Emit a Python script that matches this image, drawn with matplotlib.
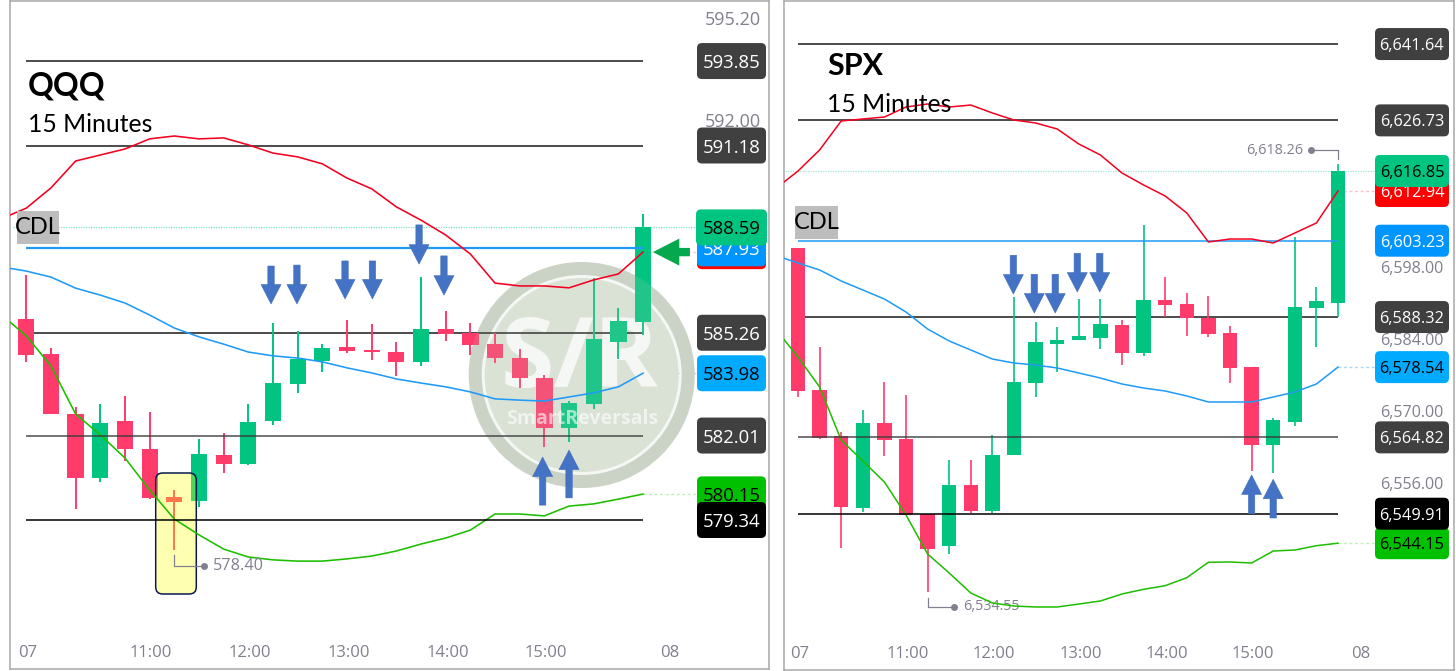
import matplotlib
matplotlib.use('Agg')
import matplotlib.pyplot as plt
from matplotlib.patches import FancyBboxPatch, Circle, Wedge, Rectangle
from matplotlib.transforms import IdentityTransform

W, H = 1456, 671

# QQQ 15 minute candles
qqq_open = [585.68, 584.59, 582.69, 580.66, 582.46, 581.60, 580.06, 579.95, 581.41, 581.12, 582.46, 583.63, 584.38,
            584.81, 584.72, 584.66, 584.32, 585.37, 585.26, 584.89, 584.47, 583.83, 582.24, 583.01, 584.96, 585.59]
qqq_high = [587.09, 584.79, 582.92, 583.01, 583.27, 582.77, 580.29, 581.91, 582.08, 583.01, 585.57, 585.31, 584.90,
            585.65, 585.53, 584.96, 587.01, 585.95, 585.57, 585.24, 584.74, 583.91, 583.11, 586.98, 586.05, 589.01]
qqq_low = [584.35, 582.69, 579.69, 580.55, 581.22, 579.99, 578.40, 579.74, 580.84, 581.07, 582.35, 583.37, 584.03,
           584.61, 584.40, 583.89, 584.21, 585.01, 584.57, 584.29, 583.50, 581.66, 581.82, 582.85, 584.42, 585.19]
qqq_close = [584.56, 582.69, 580.68, 582.40, 581.57, 580.03, 579.90, 581.42, 581.11, 582.43, 583.66, 584.43, 584.78,
             584.69, 584.66, 584.32, 585.39, 585.23, 584.88, 584.47, 583.82, 582.26, 583.04, 585.07, 585.63, 588.59]

# Bollinger style bands, first value is the bar before the visible window
qqq_upper = [588.87, 589.20, 589.84, 590.69, 590.88, 591.07, 591.39, 591.48, 591.39, 591.42, 591.20, 590.94, 590.82,
             590.60, 590.15, 589.81, 589.24, 588.82, 588.35, 587.75, 586.83, 586.74, 586.74, 586.68, 586.93, 587.12, 587.81]
qqq_mid = [587.34, 587.21, 587.02, 586.67, 586.45, 586.20, 585.82, 585.41, 585.13, 584.90, 584.65, 584.53, 584.46,
           584.34, 584.15, 583.99, 583.80, 583.67, 583.55, 583.39, 583.17, 583.13, 583.10, 583.23, 583.36, 583.55, 583.98]
qqq_lower = [585.82, 585.16, 584.21, 582.69, 582.03, 581.30, 580.29, 579.37, 578.87, 578.42, 578.17, 578.08, 578.04,
             578.04, 578.11, 578.20, 578.36, 578.58, 578.77, 579.02, 579.53, 579.53, 579.47, 579.78, 579.85, 580.00, 580.16]

qqq_levels_top = [593.85, 591.18, 585.26]
qqq_levels_low = [582.01, 579.34]
qqq_cdl = 587.93
qqq_yticks = [595.20, 592.00]
qqq_down = [(9.92, 586.17, 587.37), (10.97, 586.17, 587.40), (12.92, 586.33, 587.53), (14.03, 586.33, 587.53),
            (15.92, 587.43, 588.67), (16.93, 586.45, 587.69)]
qqq_up = [(20.93, 581.33, 579.81), (22.0, 581.55, 580.04)]

# SPX 15 minute candles
spx_open = [6601.87, 6574.07, 6565.02, 6551.09, 6567.56, 6564.57, 6549.85, 6543.67, 6555.58, 6550.44, 6561.31, 6575.50, 6583.05,
            6583.84, 6584.29, 6586.70, 6581.36, 6591.58, 6590.87, 6588.20, 6585.14, 6578.50, 6563.33, 6567.89, 6590.09, 6591.06]
spx_high = [6601.87, 6582.40, 6565.87, 6570.10, 6575.57, 6573.09, 6549.85, 6560.40, 6560.40, 6565.22, 6592.30, 6587.35, 6586.31,
            6591.78, 6591.91, 6587.74, 6606.30, 6596.14, 6592.95, 6592.49, 6586.57, 6578.63, 6568.54, 6603.89, 6594.25, 6618.26]
spx_low = [6572.77, 6564.50, 6543.15, 6550.24, 6561.24, 6549.66, 6534.55, 6542.10, 6550.11, 6550.11, 6561.31, 6572.77, 6577.65,
           6583.84, 6582.14, 6578.89, 6580.71, 6588.26, 6584.62, 6584.36, 6575.50, 6558.31, 6557.79, 6567.10, 6582.40, 6588.26]
spx_close = [6573.81, 6564.70, 6551.28, 6567.56, 6564.24, 6549.66, 6543.08, 6555.58, 6550.44, 6561.37, 6575.70, 6583.51, 6583.90,
             6584.55, 6586.90, 6581.36, 6591.58, 6590.74, 6588.07, 6585.01, 6578.43, 6563.33, 6568.15, 6590.28, 6591.39, 6616.85]

spx_upper = [6613.52, 6616.84, 6620.95, 6626.61, 6627.00, 6627.39, 6629.34, 6629.93, 6629.34, 6629.73, 6628.17, 6626.80, 6626.22,
             6625.05, 6622.12, 6619.97, 6616.45, 6614.11, 6611.96, 6608.64, 6602.98, 6603.56, 6603.56, 6602.78, 6604.73, 6606.69, 6612.94]
spx_mid = [6600.30, 6598.87, 6597.51, 6595.36, 6593.60, 6591.84, 6589.30, 6585.98, 6583.64, 6581.88, 6580.12, 6579.34, 6578.95,
           6578.37, 6577.39, 6576.41, 6575.24, 6574.46, 6573.87, 6572.90, 6571.73, 6571.73, 6571.73, 6572.70, 6573.68, 6575.24, 6578.54]
spx_lower = [6585.79, 6580.51, 6574.66, 6564.30, 6560.20, 6556.10, 6549.66, 6542.04, 6538.33, 6534.42, 6532.47, 6531.88, 6531.69,
             6531.69, 6532.27, 6532.86, 6534.23, 6535.14, 6535.85, 6537.41, 6540.42, 6540.48, 6540.28, 6542.62, 6542.82, 6543.66, 6544.15]

spx_levels_top = [6641.64, 6626.73, 6588.32]
spx_levels_low = [6564.82, 6549.91]
spx_cdl = 6603.23
spx_yticks = [6598.00, 6584.00, 6570.00, 6556.00]
spx_down = [(9.97, 6592.82, 6600.38), (10.94, 6589.11, 6596.67), (11.91, 6589.11, 6596.67), (12.93, 6593.21, 6600.77),
            (13.97, 6593.21, 6600.77)]
spx_up = [(21.0, 6557.47, 6549.91), (22.0, 6556.63, 6549.07)]

xtick_pos = [0.07, 5.06, 9.07, 13.07, 17.07, 21.05, 26.07]
xtick_labels = ['07', '11:00', '12:00', '13:00', '14:00', '15:00', '08']

RED = '#FF3B6B'
GREEN = '#00C480'
BLUE_LINE = '#1E9BF8'
ARROW = '#4472C4'
GREY_TXT = '#80808F'
DARK_TAG = '#404040'
FONT = 'Open Sans'
TITLE_FONT = 'Lato'


def make_panel(fig, box, x0, step, y_ref, px_ref, px_per_unit):
    left, right, top, bottom = box
    ax = fig.add_axes([left / W, 1 - bottom / H, (right - left) / W, (bottom - top) / H])
    ax.set_xlim((left - x0) / step, (right - x0) / step)
    ax.set_ylim(y_ref - (bottom - px_ref) / px_per_unit, y_ref + (px_ref - top) / px_per_unit)
    for s in ax.spines.values():
        s.set_color('#A8A8A8')
        s.set_linewidth(1.1)
    ax.set_axisbelow(True)
    return ax


def draw_candles(ax, o, h, l, c, wick_lw):
    for i in range(len(o)):
        col = GREEN if c[i] >= o[i] else RED
        ax.vlines(i, l[i], h[i], color=col, lw=wick_lw, zorder=2)
        ax.bar(i, abs(c[i] - o[i]), bottom=min(o[i], c[i]), width=0.66, color=col, zorder=2.1)


def draw_axes_text(ax, yticks, fmt, ysize, ypad):
    ax.yaxis.tick_right()
    ax.set_yticks(yticks)
    ax.set_yticklabels([fmt.format(v) for v in yticks], fontsize=ysize, color=GREY_TXT, family=FONT)
    ax.tick_params(axis='y', length=0, pad=ypad)
    ax.set_xticks(xtick_pos)
    ax.set_xticklabels(xtick_labels, fontsize=12, color=GREY_TXT, family=FONT)
    ax.tick_params(axis='x', length=0, pad=-17.5)


def add_tag(ax, x, value, text, fc, tc, w, h, size, z):
    cx, cy = ax.transData.transform((x, value))
    ax.add_patch(FancyBboxPatch((cx - w / 2, cy - h / 2), w, h, boxstyle='round,pad=0,rounding_size=5',
                                fc=fc, ec='none', transform=IdentityTransform(), clip_on=False, zorder=z))
    if text:
        ax.text(x, value, text, ha='center', va='center_baseline', color=tc, fontsize=size, family=FONT, zorder=z + 0.01)


def add_arrows(ax, arrows):
    for x, tip, base in arrows:
        ax.annotate('', xy=(x, tip), xytext=(x, base), zorder=6,
                    arrowprops=dict(arrowstyle='simple,head_length=14,head_width=14.4,tail_width=4.6', mutation_scale=1,
                                    shrinkA=0, shrinkB=0, fc=ARROW, ec='#3F6CBB', lw=0.4))


def draw_lines(ax, upper, mid, lower, lw):
    xs = list(range(-1, 26))
    ax.plot(xs, upper, color='#F50020', lw=lw, zorder=4)
    ax.plot(xs, mid, color=BLUE_LINE, lw=lw, zorder=4)
    ax.plot(xs, lower, color='#1DBE00', lw=lw, zorder=4)


def title_block(name, name_size, x, y_name, y_sub, cdl_box):
    fig.text(x / W, 1 - y_name / H, name, fontsize=name_size, fontweight='bold', family=TITLE_FONT, color='black', va='center', ha='left')
    fig.text(x / W, 1 - y_sub / H, '15 Minutes', fontsize=17.8, family=TITLE_FONT, color='black', va='center', ha='left', zorder=10)
    x0, x1, y0, y1 = cdl_box
    fig.add_artist(Rectangle((x0 / W, 1 - y1 / H), (x1 - x0) / W, (y1 - y0) / H, fc='#BDBDBD', ec='none',
                             transform=fig.transFigure, zorder=9))
    fig.text((x0 + x1) / 2 / W, 1 - (y0 + y1) / 2 / H, 'CDL', fontsize=17, family=TITLE_FONT, color='black', va='center', ha='center', zorder=10)


fig = plt.figure(figsize=(W / 100, H / 100), dpi=100, facecolor='white')

# ------ QQQ ------
ax1 = make_panel(fig, (10, 769, 1, 669), 26.3, 24.67, 579.34, 520, 31.63)
draw_axes_text(ax1, qqq_yticks, '{:.2f}', 13, -46)

# watermark sits under the candles, a faint copy of the disk goes over them
mx, my = 581.7, H - 375
ax1.add_patch(Wedge((mx, my), 113, 0, 360, width=13, fc='#CDD5C8', ec='none', transform=IdentityTransform(), zorder=1.6))
ax1.add_patch(Circle((mx, my), 97, fc='#DFE6DA', ec='none', transform=IdentityTransform(), zorder=1.6))
ax1.text(mx - 2, my + 14, 'S/R', ha='center', va='center', fontsize=70, fontweight='bold', color='white',
         family=FONT, transform=IdentityTransform(), zorder=1.7)
ax1.add_patch(Circle((mx, my), 113, fc='#C4CEBE', ec='none', alpha=0.16, transform=IdentityTransform(), zorder=3))
ax1.text(mx, my - 44, 'SmartReversals', ha='center', va='center', fontsize=14, fontweight='bold', color='white', alpha=0.6,
         family=FONT, transform=IdentityTransform(), zorder=3.1)

draw_candles(ax1, qqq_open, qqq_high, qqq_low, qqq_close, 1.4)

for v in qqq_levels_top:
    ax1.hlines(v, 0, 25, color='#1A1A1A', lw=1.1, zorder=1.8)
ax1.hlines(qqq_levels_low[0], 0, 25, color='#3A3A3A', lw=1.1, alpha=0.9, zorder=4.5)
ax1.hlines(qqq_levels_low[1], 0, 25, color='black', lw=1.1, zorder=4.5)
ax1.hlines(qqq_cdl, 0, 25, color=BLUE_LINE, lw=1.6, zorder=4)

# dotted guides going to the price tags
ax1.hlines(qqq_close[-1], -0.55, 27.2, color='#7FE3C2', lw=0.9, linestyles=(0, (1, 1)), zorder=1.5)
ax1.hlines(qqq_mid[-1], 25, 27.2, color='#A8D8F5', lw=1.0, linestyles=(0, (2, 2)), zorder=1.5)
ax1.hlines(qqq_lower[-1], 25, 27.2, color='#BDF0B5', lw=1.0, linestyles=(0, (2, 2)), zorder=1.5)
ax1.hlines(qqq_upper[-1], 25, 27.2, color='#FFC0C8', lw=1.0, linestyles=(0, (2, 2)), zorder=1.5)

# yellow highlight around the low candle
ax1.add_patch(FancyBboxPatch((155.7 + 7, H - 594 + 7), 40.6 - 14, 121 - 14, boxstyle='round,pad=7,rounding_size=7',
                             fc='#FFFF00', ec='none', alpha=0.3, transform=IdentityTransform(), zorder=2.5))
ax1.add_patch(FancyBboxPatch((155.7 + 7, H - 594 + 7), 40.6 - 14, 121 - 14, boxstyle='round,pad=7,rounding_size=7',
                             fc='none', ec='#0B1A50', lw=1.1, transform=IdentityTransform(), zorder=2.6))

draw_lines(ax1, qqq_upper, qqq_mid, qqq_lower, 1.15)
add_arrows(ax1, qqq_down)
add_arrows(ax1, qqq_up)
ax1.annotate('', xy=(25.40, qqq_upper[-1]), xytext=(26.90, qqq_upper[-1]), zorder=6,
             arrowprops=dict(arrowstyle='simple,head_length=19,head_width=19.5,tail_width=6', mutation_scale=1,
                             shrinkA=0, shrinkB=0, fc='#06A84E', ec='none'))

# low of the session
ax1.plot([6, 6, 7.2], [578.23, 577.90, 577.90], color='#80808F', lw=0.9, zorder=4.6)
ax1.plot([7.2], [577.90], 'o', color='#80808F', ms=4, zorder=4.6)
ax1.text(7.57, 577.90, '578.40', color=GREY_TXT, fontsize=11.7, family=FONT, ha='left', va='center', zorder=4.6)

tag_x1 = (731.5 - 26.3) / 24.67
tw, th, ts = 69, 36, 13.3
add_tag(ax1, tag_x1, 593.85, '593.85', DARK_TAG, 'white', tw, th, ts, 7)
add_tag(ax1, tag_x1, 591.18, '591.18', DARK_TAG, 'white', tw, th, ts, 7)
add_tag(ax1, tag_x1, 587.84, '', '#FF0000', 'white', tw, th, ts, 7.1)
add_tag(ax1, tag_x1, qqq_cdl, '587.93', '#0095FF', 'white', tw, th, ts, 7.2)
add_tag(ax1, tag_x1, 588.59, '588.59', '#00C47F', 'black', tw + 2, th, ts, 7.3)
add_tag(ax1, tag_x1, 585.26, '585.26', DARK_TAG, 'white', tw, th, ts, 7)
add_tag(ax1, tag_x1, 583.98, '583.98', '#00AAFF', 'black', tw, th, ts, 7)
add_tag(ax1, tag_x1, 582.01, '582.01', DARK_TAG, 'white', tw, th, ts, 7)
add_tag(ax1, tag_x1, 580.15, '580.15', '#00C000', 'black', tw, th, ts, 7)
add_tag(ax1, tag_x1, 579.34, '579.34', 'black', 'white', tw, th, ts, 7.1)

# ------ SPX ------
ax2 = make_panel(fig, (784, 1454, 1, 670), 798, 21.6, 6549.91, 513.7, 5.12)
draw_axes_text(ax2, spx_yticks, '{:,.2f}', 11.6, -53)
draw_candles(ax2, spx_open, spx_high, spx_low, spx_close, 1.2)

for v in spx_levels_top:
    ax2.hlines(v, 0, 25, color='#1A1A1A', lw=1.1, zorder=1)
ax2.hlines(spx_levels_low[0], 0, 25, color='#3A3A3A', lw=1.1, alpha=0.9, zorder=4.5)
ax2.hlines(spx_levels_low[1], 0, 25, color='black', lw=1.1, zorder=4.5)
ax2.hlines(spx_cdl, 0, 25, color=BLUE_LINE, lw=1.1, zorder=4)

ax2.hlines(spx_close[-1], -0.6, 27.2, color='#9FE8D0', lw=0.9, linestyles=(0, (1, 1)), zorder=1.5)
ax2.hlines(spx_mid[-1], 25, 27.2, color='#A8D8F5', lw=1.0, linestyles=(0, (2, 2)), zorder=1.5)
ax2.hlines(spx_lower[-1], 25, 27.2, color='#BDF0B5', lw=1.0, linestyles=(0, (2, 2)), zorder=1.5)
ax2.hlines(spx_upper[-1], 25, 27.2, color='#FFC0C8', lw=1.0, linestyles=(0, (2, 2)), zorder=1.5)

draw_lines(ax2, spx_upper, spx_mid, spx_lower, 1.1)
add_arrows(ax2, spx_down)
add_arrows(ax2, spx_up)

ax2.plot([6, 6, 7.22], [6533.45, 6531.75, 6531.75], color='#80808F', lw=0.9, zorder=3)
ax2.plot([7.22], [6531.75], 'o', color='#80808F', ms=4, zorder=3)
ax2.text(7.63, 6531.75, '6,534.55', color=GREY_TXT, fontsize=10.4, family=FONT, ha='left', va='center', zorder=3)
ax2.plot([25, 25, 23.75], [6619.19, 6620.94, 6620.94], color='#80808F', lw=0.9, zorder=3)
ax2.plot([23.75], [6620.94], 'o', color='#80808F', ms=4, zorder=3)
ax2.text(23.38, 6620.94, '6,618.26', color=GREY_TXT, fontsize=10.4, family=FONT, ha='right', va='center', zorder=3)

tag_x2 = (1412 - 798) / 21.6
tw, th, ts = 74, 32, 11.8
add_tag(ax2, tag_x2, 6641.64, '6,641.64', DARK_TAG, 'white', tw, th, ts, 7)
add_tag(ax2, tag_x2, 6626.73, '6,626.73', DARK_TAG, 'white', tw, th, ts, 7)
add_tag(ax2, tag_x2, 6612.94, '6,612.94', '#FF0000', 'white', tw, th, ts, 7)
add_tag(ax2, tag_x2, 6616.85, '6,616.85', '#00C47F', 'black', tw, th, ts, 7.1)
add_tag(ax2, tag_x2, spx_cdl, '6,603.23', '#0095FF', 'white', tw, th, ts, 7)
add_tag(ax2, tag_x2, 6588.32, '6,588.32', DARK_TAG, 'white', tw, th, ts, 7)
add_tag(ax2, tag_x2, 6578.54, '6,578.54', '#00AAFF', 'black', tw, th, ts, 7)
add_tag(ax2, tag_x2, 6564.82, '6,564.82', DARK_TAG, 'white', tw, th, ts, 7)
add_tag(ax2, tag_x2, 6544.15, '6,544.15', '#00C000', 'black', tw, th, ts, 7)
add_tag(ax2, tag_x2, 6549.91, '6,549.91', 'black', 'white', tw, th, ts, 7.1)

title_block('QQQ', 23, 28, 86, 124, (17, 59, 211, 244))
title_block('SPX', 22, 827, 66, 105, (795, 838, 206, 239))

fig.savefig('out.png', dpi=100)
